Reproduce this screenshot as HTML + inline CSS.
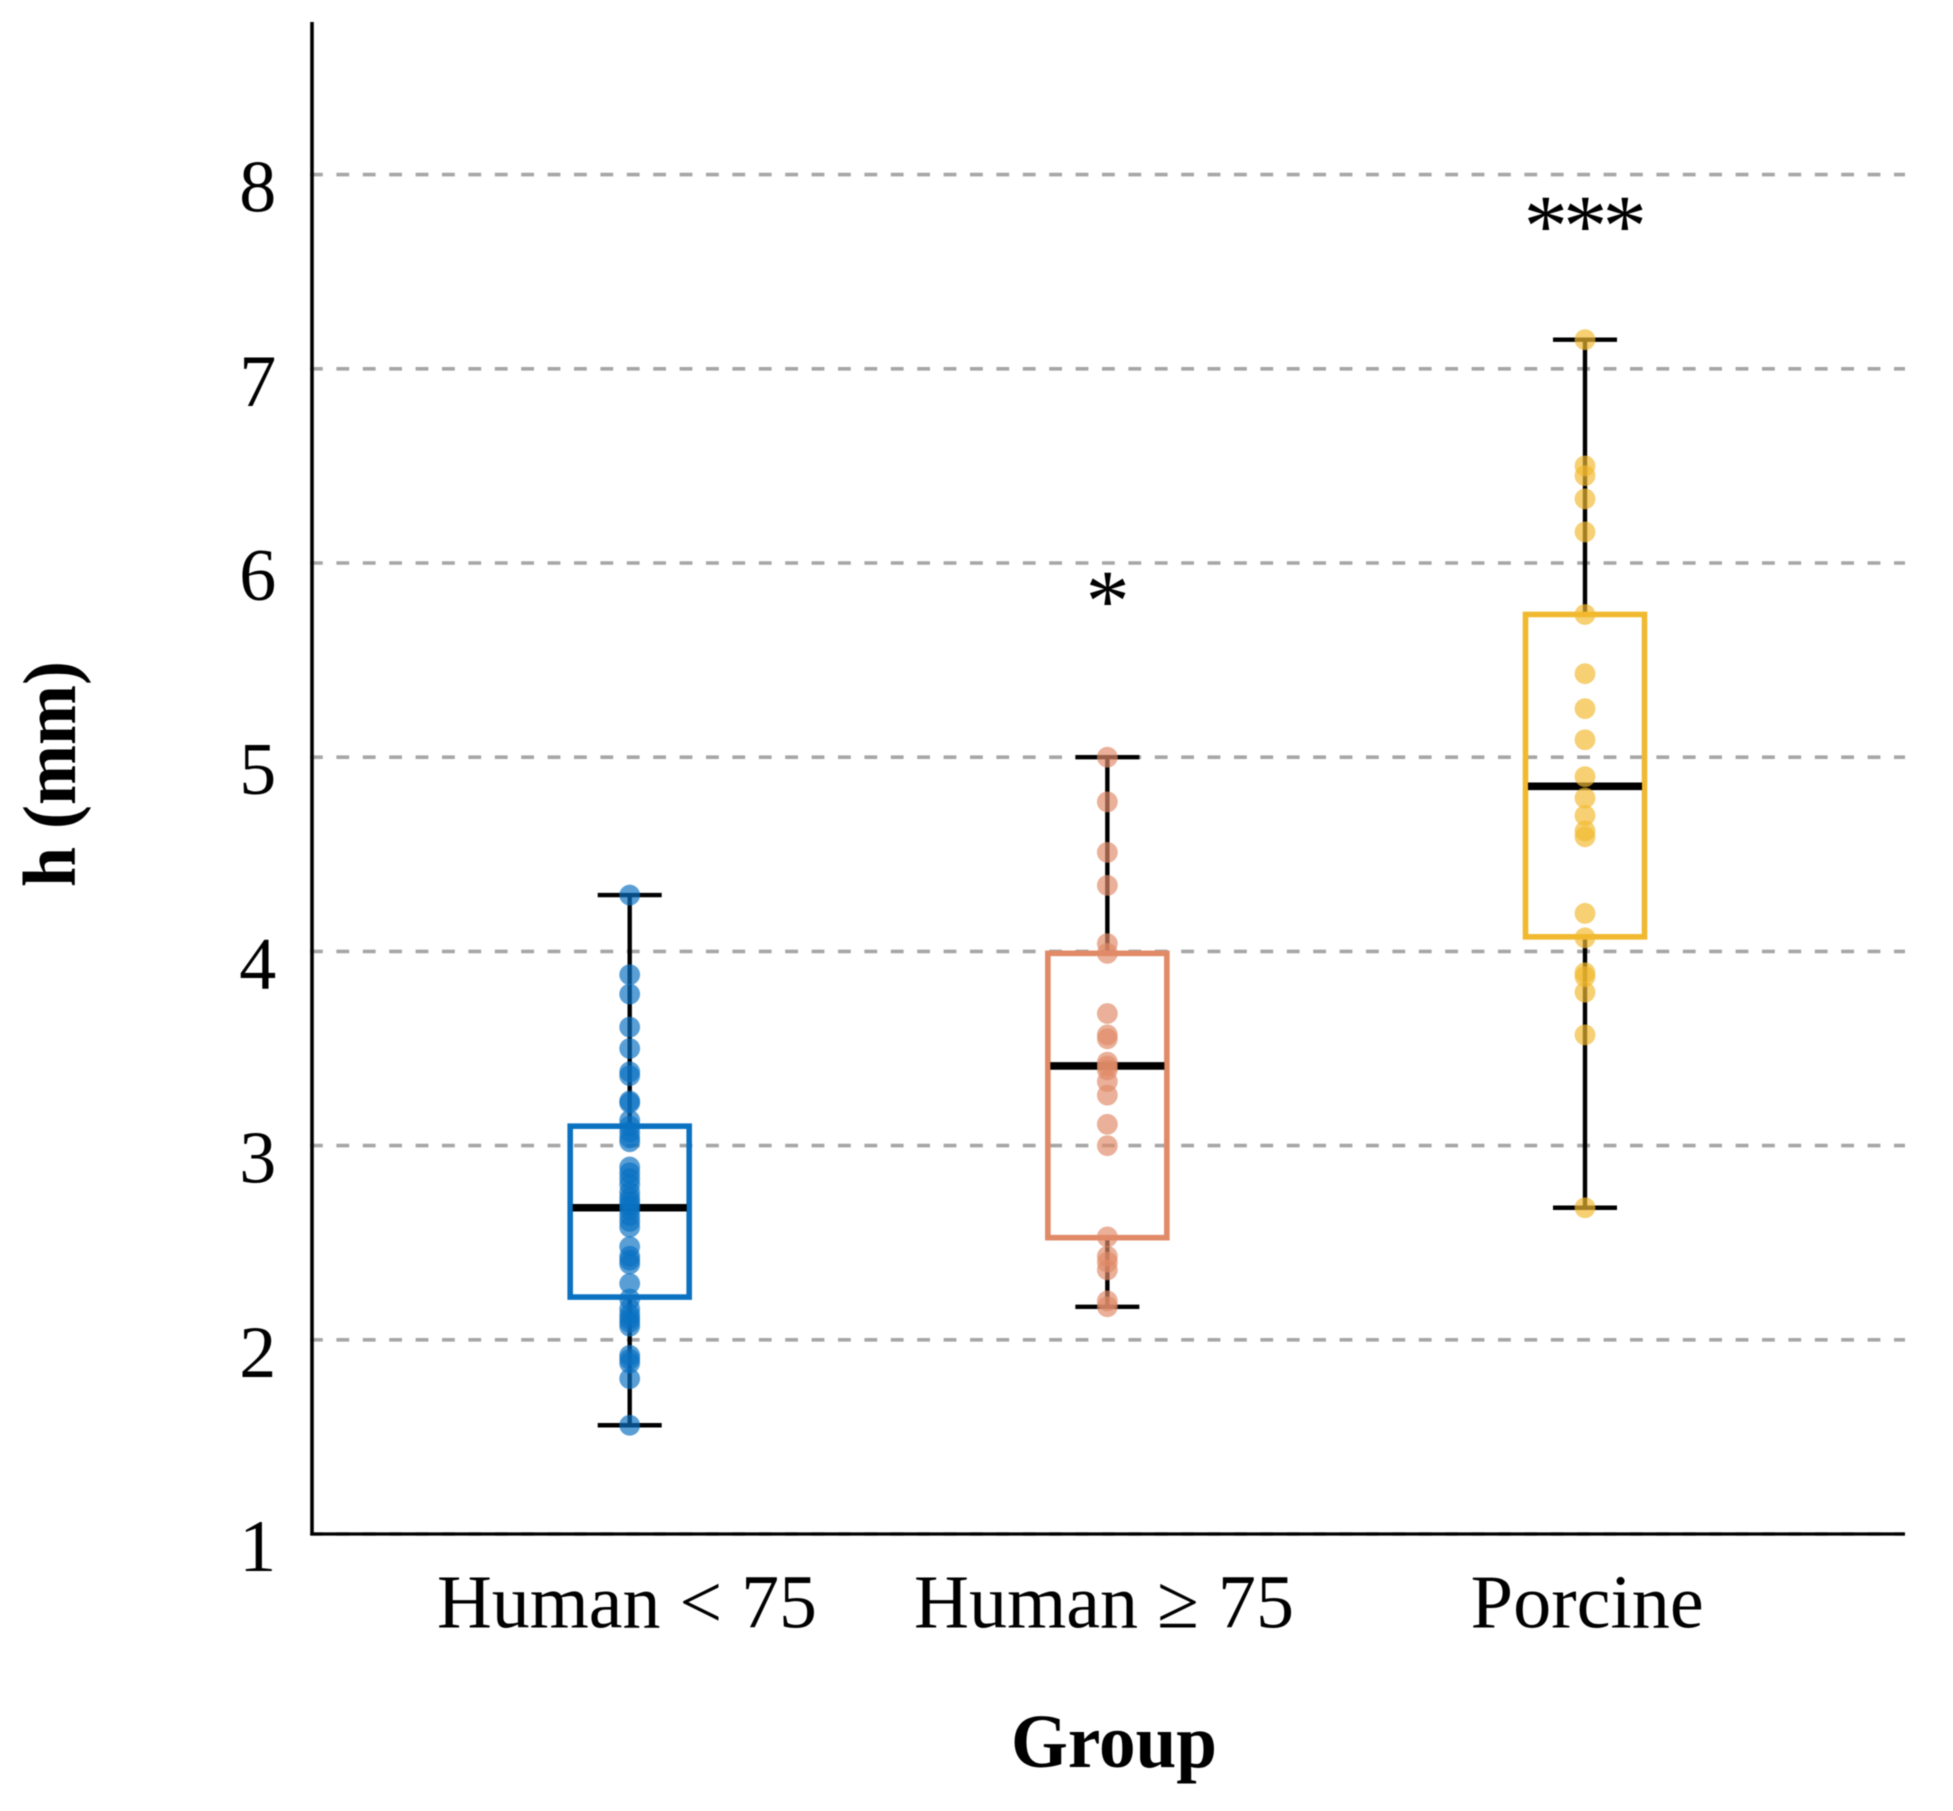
<!DOCTYPE html>
<html lang="en">
<head>
<meta charset="utf-8">
<title>h (mm) by group</title>
<style>
html,body{margin:0;padding:0;background:#fff;width:1953px;height:1811px;overflow:hidden}
svg{display:block;filter:blur(0.6px)}
text{font-family:"Liberation Serif",serif;fill:#000}
</style>
</head>
<body>
<svg id="chart" xmlns="http://www.w3.org/2000/svg" width="1953" height="1811" viewBox="0 0 1953 1811">
  <rect x="0" y="0" width="1953" height="1811" fill="#fff"/>
  <g id="grid"></g>
  <g id="marks"></g>
  <g id="axes"></g>
  <text x="1114" y="1767" font-size="76" font-weight="700" text-anchor="middle" textLength="206" lengthAdjust="spacingAndGlyphs">Group</text>
  <text transform="translate(75 774) rotate(-90)" font-size="75" font-weight="700" text-anchor="middle" textLength="226" lengthAdjust="spacingAndGlyphs">h (mm)</text>
</svg>
<script>
const categories = ['Human < 75', 'Human \u2265 75', 'Porcine'];
const categoryKeys = ['human-under-75', 'human-75-plus', 'porcine'];
const yTicks = [1, 2, 3, 4, 5, 6, 7, 8];
const whiskerHigh = [4.29, 5.0, 7.15];
const q3 = [3.1, 3.99, 5.735];
const median = [2.68, 3.41, 4.85];
const q1 = [2.22, 2.526, 4.075];
const whiskerLow = [1.56, 2.17, 2.68];
const significance = ['', '*', '***'];
const significanceValue = [0, 5.96, 7.89];
const seriesColors = ['#0b72c2', '#e08a68', '#f1b92f'];
const humanUnder75Points = [4.29, 3.88, 3.78, 3.61, 3.5, 3.38, 3.36, 3.23, 3.22, 3.13, 3.1, 3.07, 3.04, 3.02, 2.89, 2.86, 2.83, 2.8, 2.76, 2.73, 2.71, 2.69, 2.67, 2.64, 2.61, 2.58, 2.48, 2.43, 2.41, 2.39, 2.29, 2.21, 2.16, 2.13, 2.11, 2.09, 2.07, 1.92, 1.9, 1.88, 1.8, 1.56];
const humanOver75Points = [5.0, 4.77, 4.51, 4.34, 4.04, 3.99, 3.68, 3.57, 3.55, 3.43, 3.41, 3.39, 3.33, 3.26, 3.11, 3.0, 2.53, 2.43, 2.4, 2.36, 2.2, 2.17];
const porcinePoints = [7.15, 6.5, 6.45, 6.33, 6.16, 5.735, 5.43, 5.25, 5.09, 4.9, 4.79, 4.7, 4.62, 4.59, 4.196, 4.07, 3.89, 3.87, 3.79, 3.57, 2.68];
const allPoints = [humanUnder75Points, humanOver75Points, porcinePoints];

const NS = 'http://www.w3.org/2000/svg';
const yScale = function (v) { return 1534 - (v - 1) * 194.2; };
const xScale = function (i) { return 629.7 + i * 477.65; };

function make(tag, parent, attrs) {
  const el = document.createElementNS(NS, tag);
  Object.keys(attrs).forEach(function (k) { el.setAttribute(k, attrs[k]); });
  parent.appendChild(el);
  return el;
}

function drawGrid() {
  const grid = document.getElementById('grid');
  yTicks.forEach(function (t) {
    const line = make('line', grid, { x1: 310, x2: 1905, y1: yScale(t), y2: yScale(t), stroke: '#a6a6a6', 'stroke-width': 3.6, 'stroke-dasharray': '12.8 13.6' });
    
    
  });
}

function drawBox(i) {
  const marks = document.getElementById('marks');
  const key = categoryKeys[i];
  const color = seriesColors[i];
  const cx = xScale(i);
  const g = make('g', marks, {});
  
  

  const whiskerA = make('line', g, { x1: cx, x2: cx, y1: yScale(whiskerHigh[i]), y2: yScale(q3[i]), stroke: '#000', 'stroke-width': 4.4 });
  
  
  const whiskerB = make('line', g, { x1: cx, x2: cx, y1: yScale(q1[i]), y2: yScale(whiskerLow[i]), stroke: '#000', 'stroke-width': 4.4 });
  
  
  const capA = make('line', g, { x1: cx - 32, x2: cx + 32, y1: yScale(whiskerHigh[i]), y2: yScale(whiskerHigh[i]), stroke: '#000', 'stroke-width': 4.4 });
  
  
  const capB = make('line', g, { x1: cx - 32, x2: cx + 32, y1: yScale(whiskerLow[i]), y2: yScale(whiskerLow[i]), stroke: '#000', 'stroke-width': 4.4 });
  
  

  const box = make('rect', g, { x: cx - 59.5, width: 119, y: yScale(q3[i]), height: yScale(q1[i]) - yScale(q3[i]), fill: 'none', stroke: color, 'stroke-width': 5.6 });
  
  
  const med = make('line', g, { x1: cx - 57, x2: cx + 57, y1: yScale(median[i]), y2: yScale(median[i]), stroke: '#000', 'stroke-width': 7.6 });
  
  

  allPoints[i].forEach(function (v, n) {
    const dot = make('circle', g, { cx: cx, cy: yScale(v), r: 10.4, fill: color, 'fill-opacity': 0.68 });
    
    
  });

  if (significance[i]) {
    const star = make('text', g, { x: cx - 2, y: yScale(significanceValue[i]) + 59.5, 'font-size': 88, 'letter-spacing': -4.5, 'text-anchor': 'middle' });
    star.textContent = significance[i];
    
    
  }
}

function drawAxes() {
  const axes = document.getElementById('axes');
  const yAxis = make('line', axes, { x1: 312, x2: 312, y1: 22, y2: 1535.5, stroke: '#000', 'stroke-width': 3.6 });
  
  
  const xAxis = make('line', axes, { x1: 311, x2: 1905, y1: 1534, y2: 1534, stroke: '#000', 'stroke-width': 3.2 });
  
  

  yTicks.forEach(function (t) {
    const label = make('text', axes, { x: 257.7, y: yScale(t) + 37, 'font-size': 74, 'text-anchor': 'middle' });
    label.textContent = String(t);
    
    
  });

  const nudge = [-2.7, -3.3, 2.2];
  const fit = [380, 380, 233];
  categories.forEach(function (c, i) {
    const label = make('text', axes, { x: xScale(i) + nudge[i], y: 1627.7, 'font-size': 76, 'text-anchor': 'middle', textLength: fit[i], lengthAdjust: 'spacingAndGlyphs' });
    label.textContent = c;
    
    
  });
}

drawGrid();
categories.forEach(function (c, i) { drawBox(i); });
drawAxes();
</script>
</body>
</html>
